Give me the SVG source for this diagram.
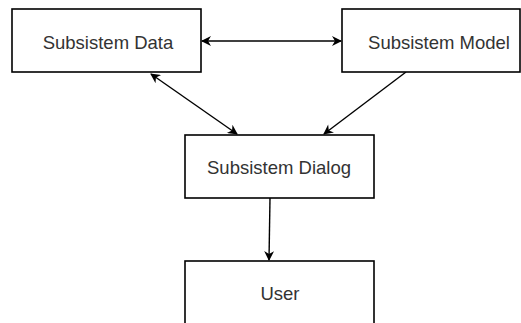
<svg xmlns="http://www.w3.org/2000/svg" width="521" height="323" viewBox="0 0 521 323">
<defs>
<marker id="ah" viewBox="0 0 10 10" refX="9" refY="5" markerWidth="11" markerHeight="10" orient="auto-start-reverse" markerUnits="userSpaceOnUse">
<path d="M0,0 L10,5 L0,10 L3,5 Z" fill="#000"/>
</marker>
</defs>
<style>
.box{fill:#fff;stroke:#000;stroke-width:1.6}
.lbl{font-family:"Liberation Sans",Arial,sans-serif;font-size:18.5px;fill:#333;text-anchor:middle}
.edge{stroke:#000;stroke-width:1.4;fill:none}
</style>
<rect width="521" height="323" fill="#fff"/>
<g id="edges">
<line class="edge" x1="202" y1="41" x2="341" y2="41" marker-start="url(#ah)" marker-end="url(#ah)"/>
<line class="edge" x1="151" y1="74" x2="237" y2="134" marker-start="url(#ah)" marker-end="url(#ah)"/>
<line class="edge" x1="406" y1="72" x2="324" y2="134" marker-end="url(#ah)"/>
<line class="edge" x1="270" y1="198" x2="269" y2="260" marker-end="url(#ah)"/>
</g>
<g id="data">
<rect class="box" x="12" y="9" width="189" height="63"/>
<text class="lbl" x="108" y="49">Subsistem Data</text>
</g>
<g id="model">
<rect class="box" x="342" y="9" width="178" height="63"/>
<text class="lbl" x="439" y="49">Subsistem Model</text>
</g>
<g id="dialog">
<rect class="box" x="185" y="135" width="189" height="63"/>
<text class="lbl" x="279" y="174">Subsistem Dialog</text>
</g>
<g id="user">
<rect class="box" x="185" y="261" width="189" height="70"/>
<text class="lbl" x="280" y="300">User</text>
</g>
</svg>
